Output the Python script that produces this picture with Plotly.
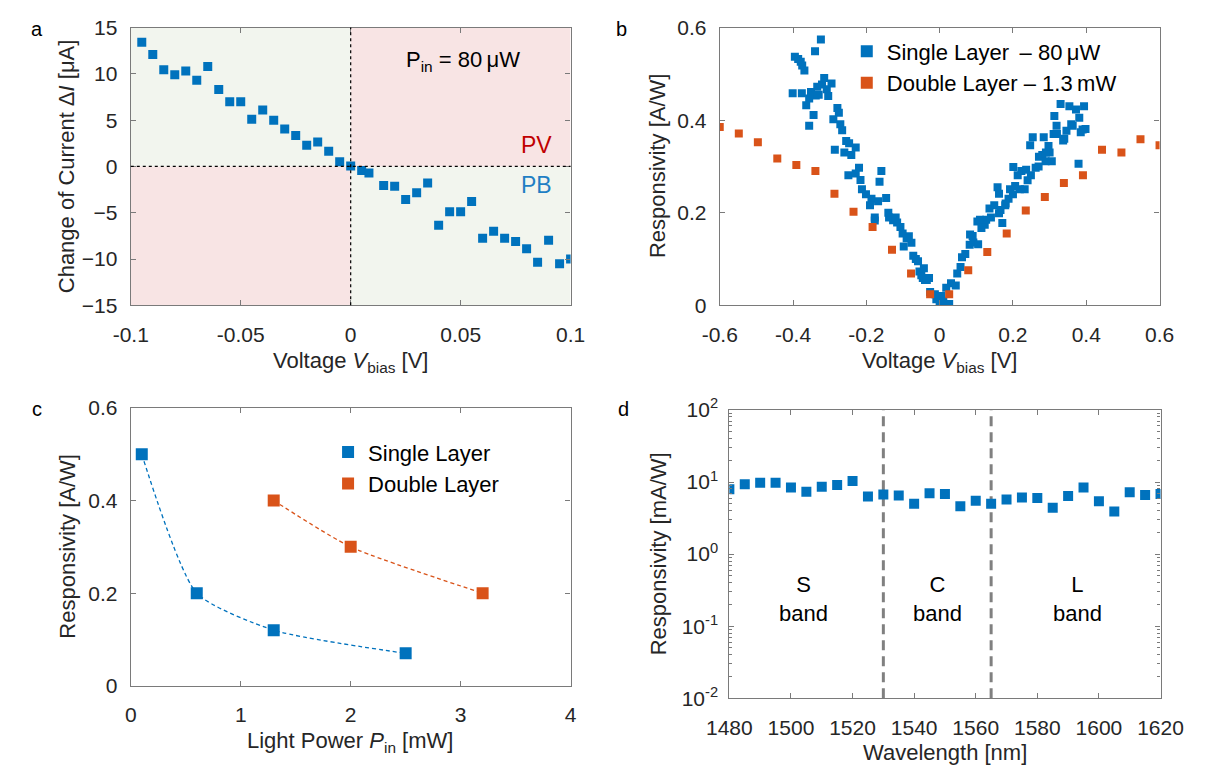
import plotly.graph_objects as go

# ---------------- data ----------------
# Panel a: change of current vs bias voltage (P_in = 80 uW)
a_v = [-0.095, -0.09, -0.085, -0.08, -0.075, -0.07, -0.065, -0.06, -0.055, -0.05,
       -0.045, -0.04, -0.035, -0.03, -0.025, -0.02, -0.015, -0.01, -0.005, 0.0,
       0.005, 0.0083, 0.015, 0.02, 0.025, 0.03, 0.035, 0.04, 0.045, 0.05,
       0.055, 0.06, 0.065, 0.07, 0.075, 0.08, 0.085, 0.09, 0.095, 0.1]
a_di = [13.4, 12.1, 10.45, 9.9, 10.3, 9.3, 10.8, 8.3, 7.0, 7.0,
        5.1, 6.1, 5.0, 4.05, 3.35, 2.3, 2.65, 1.65, 0.5, 0.05,
        -0.45, -0.7, -2.06, -2.13, -3.57, -2.83, -1.78, -6.36, -4.9, -4.9,
        -3.78, -7.76, -7.0, -7.76, -8.1, -8.88, -10.35, -7.97, -10.5, -10.0]

# Panel b: responsivity vs bias voltage
b_single_v = [-0.324, -0.340, -0.395, -0.386, -0.379, -0.375, -0.369, -0.315, -0.295, -0.321,
              -0.334, -0.308, -0.401, -0.376, -0.351, -0.338, -0.304, -0.356, -0.364, -0.344,
              -0.356, -0.279, -0.275, -0.290, -0.271, -0.266, -0.255, -0.247, -0.229, -0.286,
              -0.260, -0.241, -0.220, -0.159, -0.249, -0.229, -0.216, -0.164, -0.212, -0.201,
              -0.186, -0.168, -0.146, -0.190, -0.177, -0.177, -0.138, -0.127, -0.116, -0.107,
              -0.101, -0.084, -0.077, -0.098, -0.072, -0.059, -0.055, -0.046, -0.029, -0.026,
              -0.330, -0.140, -0.120, -0.090, -0.065, -0.050, -0.040, -0.043, -0.035, -0.009,
              0.000, 0.013, 0.026, -0.013, 0.031, 0.018, 0.044, 0.048, 0.057, 0.061,
              0.070, 0.082, 0.083, 0.092, 0.103, 0.105, 0.114, 0.123, 0.127, 0.136,
              0.149, 0.162, 0.171, 0.166, 0.179, 0.158, 0.162, 0.188, 0.192, 0.206,
              0.219, 0.232, 0.201, 0.213, 0.223, 0.236, 0.249, 0.262, 0.254, 0.247,
              0.284, 0.271, 0.280, 0.289, 0.297, 0.306, 0.300, 0.311, 0.319, 0.313,
              0.330, 0.337, 0.346, 0.354, 0.359, 0.372, 0.381, 0.394, 0.398, 0.385,
              0.379, 0.363, 0.010, 0.005, 0.090, 0.110, 0.140, 0.180, 0.200, 0.240,
              0.270, 0.290, 0.320, 0.340, 0.390]
b_single_r = [0.574, 0.549, 0.537, 0.532, 0.526, 0.518, 0.507, 0.491, 0.479, 0.477,
              0.472, 0.467, 0.458, 0.458, 0.461, 0.453, 0.452, 0.447, 0.432, 0.411,
              0.388, 0.426, 0.416, 0.402, 0.391, 0.378, 0.355, 0.350, 0.341, 0.336,
              0.330, 0.325, 0.297, 0.290, 0.281, 0.285, 0.271, 0.267, 0.251, 0.240,
              0.230, 0.225, 0.232, 0.216, 0.190, 0.183, 0.190, 0.184, 0.179, 0.169,
              0.155, 0.149, 0.135, 0.127, 0.107, 0.095, 0.073, 0.059, 0.059, 0.029,
              0.455, 0.200, 0.190, 0.145, 0.100, 0.065, 0.055, 0.080, 0.055, 0.013,
              0.003, 0.003, 0.003, 0.024, 0.048, 0.038, 0.043, 0.069, 0.083, 0.104,
              0.111, 0.131, 0.153, 0.136, 0.181, 0.132, 0.167, 0.174, 0.185, 0.209,
              0.216, 0.199, 0.178, 0.206, 0.216, 0.255, 0.241, 0.230, 0.251, 0.258,
              0.251, 0.251, 0.299, 0.281, 0.290, 0.293, 0.281, 0.297, 0.363, 0.346,
              0.363, 0.321, 0.325, 0.311, 0.344, 0.311, 0.330, 0.370, 0.388, 0.409,
              0.435, 0.356, 0.377, 0.430, 0.391, 0.423, 0.405, 0.430, 0.381, 0.374,
              0.306, 0.388, 0.010, 0.020, 0.150, 0.185, 0.190, 0.220, 0.240, 0.270,
              0.300, 0.330, 0.370, 0.360, 0.380]
b_double_v = [-0.6, -0.548, -0.496, -0.443, -0.391, -0.339, -0.287, -0.235, -0.183, -0.130,
              -0.078, -0.026, 0.026, 0.078, 0.130, 0.183, 0.235, 0.287, 0.339, 0.391,
              0.443, 0.496, 0.548, 0.6]
b_double_r = [0.385, 0.371, 0.352, 0.317, 0.303, 0.290, 0.241, 0.202, 0.169, 0.120,
              0.069, 0.024, 0.024, 0.076, 0.115, 0.155, 0.205, 0.234, 0.264, 0.281,
              0.336, 0.330, 0.359, 0.346]

# Panel c: responsivity vs light power
c_single_p = [0.1, 0.6, 1.3, 2.5]
c_single_r = [0.5, 0.2, 0.12, 0.07]
c_double_p = [1.3, 2.0, 3.2]
c_double_r = [0.4, 0.3, 0.2]

# Panel d: responsivity vs wavelength
d_wl = [1480, 1485, 1490, 1495, 1500, 1505, 1510, 1515, 1520, 1525,
        1530, 1535, 1540, 1545, 1550, 1555, 1560, 1565, 1570, 1575,
        1580, 1585, 1590, 1595, 1600, 1605, 1610, 1615, 1620]
d_resp = [7.96, 9.3, 9.8, 9.8, 8.4, 7.3, 8.6, 9.1, 10.3, 6.3,
          6.7, 6.5, 5.0, 7.0, 6.8, 4.6, 5.5, 5.0, 5.7, 6.1,
          6.0, 4.4, 6.4, 8.4, 5.4, 3.9, 7.2, 6.6, 6.8]
band_edges = [1530, 1565]
band_names = ["S<br>band", "C<br>band", "L<br>band"]
band_centers = [1504, 1547.5, 1593]

a_xticks = [-0.1, -0.05, 0, 0.05, 0.1]
a_yticks = [-15, -10, -5, 0, 5, 10, 15]
b_xticks = [-0.6, -0.4, -0.2, 0, 0.2, 0.4, 0.6]
b_yticks = [0, 0.2, 0.4, 0.6]
c_xticks = [0, 1, 2, 3, 4]
c_yticks = [0, 0.2, 0.4, 0.6]
d_xticks = [1480, 1500, 1520, 1540, 1560, 1580, 1600, 1620]
d_yticks = [0.01, 0.1, 1, 10, 100]
d_yticktext = ["10<sup>-2</sup>", "10<sup>-1</sup>", "10<sup>0</sup>", "10<sup>1</sup>", "10<sup>2</sup>"]

# ---------------- style ----------------
W, H = 1222, 780
BLUE = "#0072BD"
ORANGE = "#D95319"
TXT = "#262626"
FRAME = "#7a7a7a"
FONT = "Liberation Sans, Arial, sans-serif"
TICKF = 21
TITLEF = 22


def px_x(p):
    return p / W


def px_y(p):
    return 1 - p / H


dom = {
    "a": ([px_x(112), px_x(569)], [px_y(301), px_y(14)]),
    "b": ([px_x(724), px_x(1181)], [px_y(301), px_y(14)]),
    "c": ([px_x(112), px_x(569)], [px_y(694), px_y(407)]),
    "d": ([px_x(734), px_x(1182)], [px_y(707), px_y(409)]),
}

fig = go.Figure()

fig.add_trace(go.Scatter(x=a_v, y=a_di, mode="markers", xaxis="x", yaxis="y",
                         marker=dict(symbol="square", size=9, color=BLUE), showlegend=False))

fig.add_trace(go.Scatter(x=b_single_v, y=b_single_r, mode="markers", xaxis="x2", yaxis="y2",
                         name="Single Layer \u2009\u2013 80\u2009\u03bcW", legend="legend",
                         marker=dict(symbol="square", size=8, color=BLUE)))
fig.add_trace(go.Scatter(x=b_double_v, y=b_double_r, mode="markers", xaxis="x2", yaxis="y2",
                         name="Double Layer \u2013 1.3\u2009mW", legend="legend",
                         marker=dict(symbol="square", size=8, color=ORANGE)))

# panel c: dashed guide lines (no legend), then the markers (in legend)
fig.add_trace(go.Scatter(x=c_single_p, y=c_single_r, mode="lines", xaxis="x3", yaxis="y3",
                         line=dict(color=BLUE, width=1.3, dash="4px,3px", shape="spline", smoothing=0.6),
                         showlegend=False, hoverinfo="skip"))
fig.add_trace(go.Scatter(x=c_double_p, y=c_double_r, mode="lines", xaxis="x3", yaxis="y3",
                         line=dict(color=ORANGE, width=1.3, dash="4px,3px", shape="spline", smoothing=0.6),
                         showlegend=False, hoverinfo="skip"))
fig.add_trace(go.Scatter(x=c_single_p, y=c_single_r, mode="markers", xaxis="x3", yaxis="y3",
                         name="Single Layer", legend="legend2",
                         marker=dict(symbol="square", size=12, color=BLUE)))
fig.add_trace(go.Scatter(x=c_double_p, y=c_double_r, mode="markers", xaxis="x3", yaxis="y3",
                         name="Double Layer", legend="legend2",
                         marker=dict(symbol="square", size=12, color=ORANGE)))

fig.add_trace(go.Scatter(x=d_wl, y=d_resp, mode="markers", xaxis="x4", yaxis="y4",
                         marker=dict(symbol="square", size=10, color=BLUE), showlegend=False))


def axis(domain, rng, ticks, anchor, standoff, **kw):
    d = dict(domain=domain, range=rng, tickvals=ticks, anchor=anchor,
             showline=True, linecolor=FRAME, linewidth=1.2, mirror="ticks",
             ticks="inside", ticklen=5, tickcolor=FRAME, tickwidth=1,
             showgrid=False, zeroline=False, ticklabelstandoff=standoff,
             tickfont=dict(family=FONT, size=TICKF, color=TXT))
    d.update(kw)
    return d


minor_log = [m * 10 ** e for e in (-2, -1, 0, 1) for m in range(2, 10)]

fig.update_layout(
    width=W, height=H,
    margin=dict(l=0, r=0, t=0, b=0),
    paper_bgcolor="white", plot_bgcolor="white",
    font=dict(family=FONT, color=TXT),
    xaxis=axis(dom["a"][0], [-0.1, 0.1], a_xticks, "y", 10,
               ticktext=["-0.1", "-0.05", "0", "0.05", "0.1"]),
    yaxis=axis(dom["a"][1], [-15, 15], a_yticks, "x", 8),
    xaxis2=axis(dom["b"][0], [-0.6, 0.6], b_xticks, "y2", 10,
                ticktext=["-0.6", "-0.4", "-0.2", "0", "0.2", "0.4", "0.6"]),
    yaxis2=axis(dom["b"][1], [0, 0.6], b_yticks, "x2", 8,
                ticktext=["0", "0.2", "0.4", "0.6"]),
    xaxis3=axis(dom["c"][0], [0, 4], c_xticks, "y3", 10),
    yaxis3=axis(dom["c"][1], [0, 0.6], c_yticks, "x3", 8,
                ticktext=["0", "0.2", "0.4", "0.6"]),
    xaxis4=axis(dom["d"][0], [1480, 1620], d_xticks, "y4", 10),
    yaxis4=axis(dom["d"][1], [-2, 2], d_yticks, "x4", 6, type="log",
                ticktext=d_yticktext,
                minor=dict(tickvals=minor_log, ticks="inside", ticklen=3,
                           tickcolor=FRAME, showgrid=False)),
    legend=dict(x=px_x(856), y=px_y(17), xanchor="left", yanchor="top",
                bgcolor="rgba(0,0,0,0)", borderwidth=0, itemwidth=30,
                font=dict(family=FONT, size=TITLEF, color="black"),
                tracegroupgap=0, itemsizing="constant"),
    legend2=dict(x=px_x(317), y=px_y(431), xanchor="left", yanchor="top",
                 bgcolor="rgba(0,0,0,0)", borderwidth=0, itemwidth=30,
                 font=dict(family=FONT, size=TITLEF, color="black"),
                 tracegroupgap=0, itemsizing="constant"),
)

# Panel a quadrant shading and zero lines
GREEN_BG = "#F2F5EE"
PINK_BG = "#F8E4E4"
quads = [(-0.1, 0, 0, 15, GREEN_BG), (0, 0.1, -15, 0, GREEN_BG),
         (-0.1, 0, -15, 0, PINK_BG), (0, 0.1, 0, 15, PINK_BG)]
shapes = []
for x0, x1, y0, y1, c in quads:
    shapes.append(dict(type="rect", xref="x", yref="y", x0=x0, x1=x1, y0=y0, y1=y1,
                       fillcolor=c, line=dict(width=0), layer="below"))
shapes.append(dict(type="line", xref="x", yref="y domain", x0=0, x1=0, y0=0, y1=1,
                   line=dict(color="black", width=1.2, dash="dot"), layer="above"))
shapes.append(dict(type="line", xref="x domain", yref="y", x0=0, x1=1, y0=0, y1=0,
                   line=dict(color="black", width=1.2, dash="dot"), layer="above"))
for e in band_edges:
    shapes.append(dict(type="line", xref="x4", yref="y4 domain", x0=e, x1=e, y0=0, y1=1,
                       line=dict(color="#808080", width=3, dash="10px,6px"), layer="below"))
fig.update_layout(shapes=shapes)

ann = []


def text(x, y, s, size=TITLEF, color=TXT, angle=0, xa="center", ya="middle", xref="paper", yref="paper"):
    ann.append(dict(x=x, y=y, text=s, showarrow=False, xref=xref, yref=yref,
                    xanchor=xa, yanchor=ya, textangle=angle,
                    font=dict(family=FONT, size=size, color=color)))


# panel letters
text(px_x(15), px_y(15), "a", size=20, color="black")
text(px_x(622), px_y(15), "b", size=20, color="black")
text(px_x(15), px_y(408), "c", size=20, color="black")
text(px_x(624), px_y(408), "d", size=20, color="black")

# axis titles
text(px_x(46), px_y(157), "Change of Current \u0394<i>I</i> [\u03bcA]", angle=-90)
text(px_x(340), px_y(343), "Voltage <i>V</i><sub>bias</sub> [V]", ya="top")
text(px_x(660), px_y(157), "Responsivity [A/W]", angle=-90)
text(px_x(952), px_y(343), "Voltage <i>V</i><sub>bias</sub> [V]", ya="top")
text(px_x(46), px_y(550), "Responsivity [A/W]", angle=-90)
text(px_x(340), px_y(736), "Light Power <i>P</i><sub>in</sub> [mW]", ya="top")
text(px_x(660), px_y(558), "Responsivity [mA/W]", angle=-90)
text(px_x(958), px_y(748), "Wavelength [nm]", ya="top")

# in-plot texts
text(0.051, 11.4, "P<sub>in</sub> = 80\u2009\u03bcW", color="black", xref="x", yref="y")
text(0.0845, 2.3, "PV", size=23, color="#C00000", xref="x", yref="y")
text(0.0845, -2.0, "PB", size=23, color="#1F7FC4", xref="x", yref="y")
for cx, nm in zip(band_centers, band_names):
    text(cx, -0.62, nm, size=22, color="black", xref="x4", yref="y4")

fig.update_layout(annotations=ann)

fig.write_html("out.html", config={"displayModeBar": False},
               post_script="document.body.style.margin='0px';")
